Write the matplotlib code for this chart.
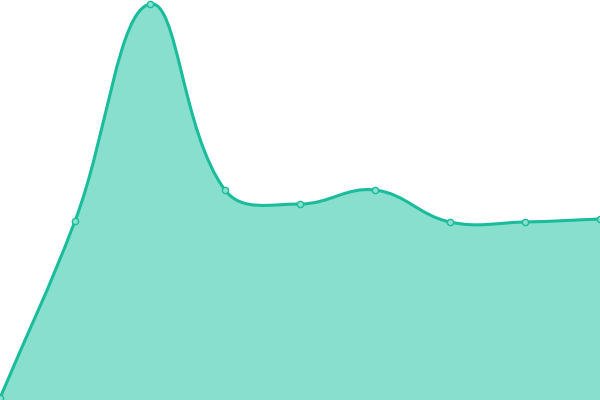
import numpy as np
import matplotlib
matplotlib.use('Agg')
import matplotlib.pyplot as plt
from matplotlib.path import Path
from matplotlib.patches import PathPatch

# valores
categorias = ['A', 'B', 'C', 'D', 'E', 'F', 'G', 'H', 'I']
valores = [2, 179, 396, 210, 196, 210, 178, 178, 181]

cor_linha = '#1abc9c'
cor_area = '#88dfcd'

fig = plt.figure(figsize=(6, 4), dpi=100)
ax = fig.add_axes([0, 0, 1, 1])
ax.set_xlim(0, len(categorias) - 1)
ax.set_ylim(0, 400)
ax.axis('off')

x = np.arange(len(categorias))
y = np.array(valores, dtype=float)

# curva suavizada (tensao 0.4), calculada em coordenadas de tela
pts = ax.transData.transform(np.column_stack([x, y]))
tensao = 0.4
n = len(pts)
verts = [pts[0]]
codes = [Path.MOVETO]
cps = []
for i in range(n):
    p = pts[i]
    prev = pts[i - 1] if i > 0 else p
    nxt = pts[i + 1] if i < n - 1 else p
    v = nxt - prev
    d0 = np.hypot(*(p - prev))
    d1 = np.hypot(*(nxt - p))
    tot = d0 + d1
    if tot == 0:
        cps.append((p, p))
        continue
    cp0 = p - v * tensao * d0 / tot
    cp1 = p + v * tensao * d1 / tot
    cps.append((cp0, cp1))
for i in range(n - 1):
    verts += [cps[i][1], cps[i + 1][0], pts[i + 1]]
    codes += [Path.CURVE4] * 3

inv = ax.transData.inverted()
verts_data = inv.transform(np.array(verts))

linha = Path(verts_data, codes)
area_verts = list(verts_data) + [[x[-1], 0], [x[0], 0], verts_data[0]]
area_codes = codes + [Path.LINETO, Path.LINETO, Path.CLOSEPOLY]
area = Path(area_verts, area_codes)

ax.add_patch(PathPatch(area, facecolor=cor_area, edgecolor='none'))
ax.add_patch(PathPatch(linha, facecolor='none', edgecolor=cor_linha, linewidth=2.2,
                       capstyle='round', joinstyle='round'))
ax.plot(x, y, 'o', markersize=4.5, markerfacecolor=cor_area, markeredgecolor=cor_linha,
        markeredgewidth=1.0, clip_on=False, zorder=5)

fig.savefig('out.png', dpi=100)
